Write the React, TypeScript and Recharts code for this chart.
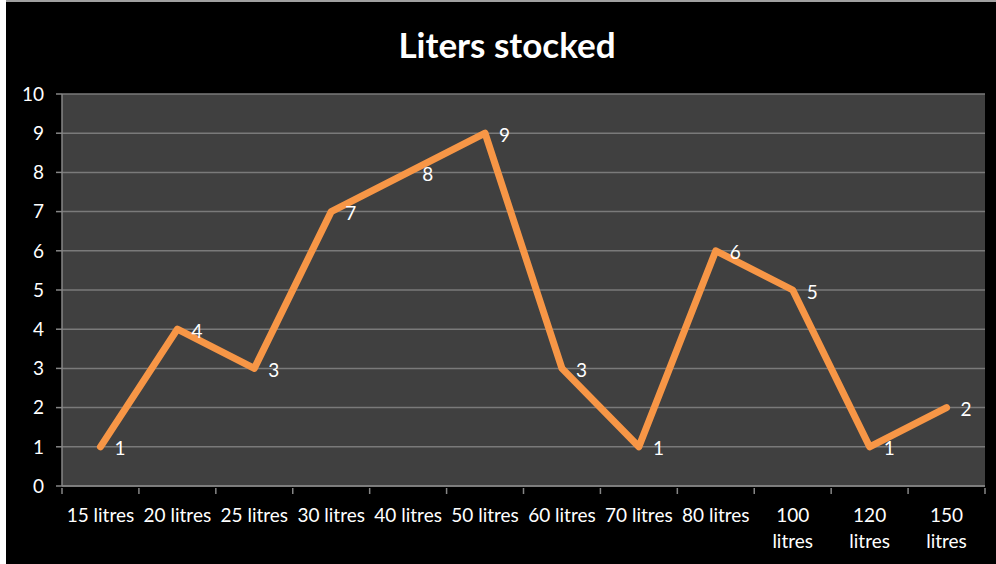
import { LineChart, Line, XAxis, YAxis, CartesianGrid, LabelList } from 'recharts'

const categories = [
  '15 litres',
  '20 litres',
  '25 litres',
  '30 litres',
  '40 litres',
  '50 litres',
  '60 litres',
  '70 litres',
  '80 litres',
  '100 litres',
  '120 litres',
  '150 litres',
]
const stocked = [1, 4, 3, 7, 8, 9, 3, 1, 6, 5, 1, 2]
const yTicks = [0, 1, 2, 3, 4, 5, 6, 7, 8, 9, 10]

const data = categories.map((name, i) => ({ name, value: stocked[i] }))

const FONT = 'Lato, "Open Sans", sans-serif'
const TEXT = '#ffffff'
const AXIS = '#868686'

function CategoryTick(props: any) {
  const { x, y, payload, index } = props
  const half = payload?.offset || 38.5
  const label: string = String(payload.value)
  const lines = label.length > 9 ? label.split(' ') : [label]
  const isLast = index === categories.length - 1
  return (
    <g>
      <line x1={x - half} y1={y - 6} x2={x - half} y2={y} stroke={AXIS} strokeWidth={1.5} />
      {isLast && (
        <line x1={x + half} y1={y - 6} x2={x + half} y2={y} stroke={AXIS} strokeWidth={1.5} />
      )}
      <text x={x} y={y + 28} textAnchor="middle" fill={TEXT} fontSize={19} fontFamily={FONT}>
        {lines.map((t, i) => (
          <tspan key={i} x={x} dy={i === 0 ? 0 : 26}>
            {t}
          </tspan>
        ))}
      </text>
    </g>
  )
}

function PointLabel(props: any) {
  const { x, y, value } = props
  return (
    <text
      x={x + 14}
      y={y + 1}
      dominantBaseline="central"
      fill={TEXT}
      fontSize={19}
      fontFamily={FONT}
    >
      {value}
    </text>
  )
}

export default function App() {
  return (
    <div
      style={{
        position: 'absolute',
        top: 0,
        left: 0,
        width: 996,
        height: 564,
        background: '#ffffff',
        overflow: 'hidden',
      }}
    >
      <div
        style={{
          position: 'absolute',
          top: 0,
          left: 6,
          width: 990,
          height: 2,
          background: '#a0a0a0',
        }}
      />
      <div
        style={{
          position: 'absolute',
          top: 2,
          left: 6,
          width: 990,
          height: 562,
          background: '#000000',
        }}
      />
      <div
        style={{
          position: 'absolute',
          top: 22,
          left: 0,
          width: 1014,
          textAlign: 'center',
          color: TEXT,
          fontFamily: FONT,
          fontWeight: 700,
          fontSize: 35,
          lineHeight: '44px',
        }}
      >
        Liters stocked
      </div>
      <div style={{ position: 'absolute', top: 0, left: 0 }}>
        <LineChart
          width={996}
          height={564}
          data={data}
          margin={{ top: 94, right: 11, bottom: 0, left: 0 }}
        >
          <CartesianGrid
            vertical={false}
            fill="#404040"
            stroke="#7a7a7a"
            strokeWidth={1.5}
          />
          <XAxis
            dataKey="name"
            scale="band"
            height={78}
            interval={0}
            tickLine={false}
            axisLine={{ stroke: AXIS, strokeWidth: 1.5 }}
            tick={<CategoryTick />}
          />
          <YAxis
            width={62}
            domain={[0, 10]}
            ticks={yTicks}
            interval={0}
            tickSize={6}
            tickMargin={12}
            tickLine={{ stroke: AXIS, strokeWidth: 1.5 }}
            axisLine={{ stroke: AXIS, strokeWidth: 1.5 }}
            tick={{ fill: TEXT, fontSize: 19, fontFamily: FONT }}
          />
          <Line
            type="linear"
            dataKey="value"
            stroke="#f79646"
            strokeWidth={7}
            strokeLinecap="round"
            strokeLinejoin="round"
            dot={false}
            activeDot={false}
            isAnimationActive={false}
          >
            <LabelList dataKey="value" content={<PointLabel />} />
          </Line>
        </LineChart>
      </div>
    </div>
  )
}
